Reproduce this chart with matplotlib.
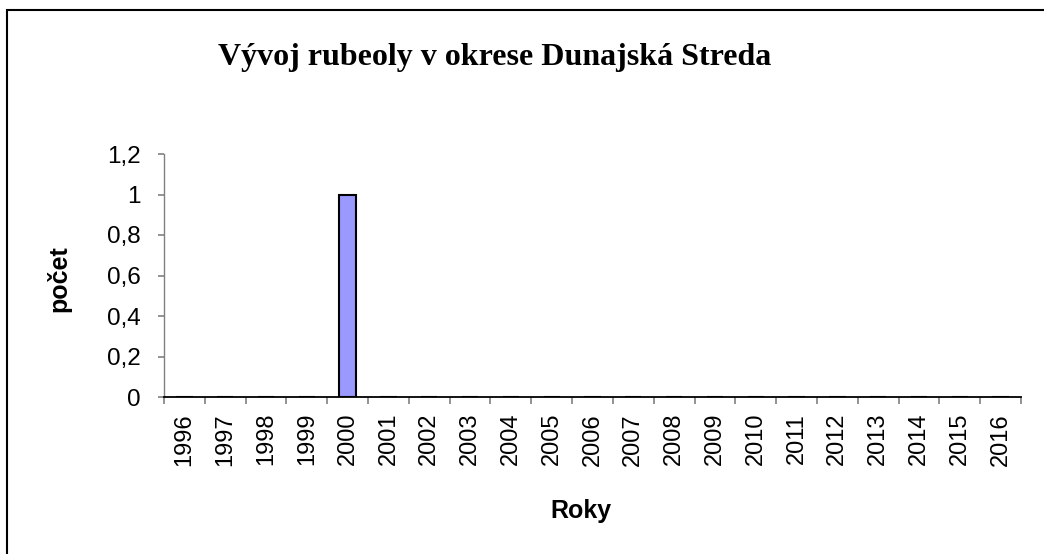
import matplotlib
matplotlib.use("Agg")
import matplotlib.pyplot as plt
from matplotlib.patches import Rectangle
import numpy as np

years = [str(y) for y in range(1996, 2017)]
counts = [0, 0, 0, 0, 1, 0, 0, 0, 0, 0, 0, 0, 0, 0, 0, 0, 0, 0, 0, 0, 0]
yticks = [0, 0.2, 0.4, 0.6, 0.8, 1.0, 1.2]
ytick_labels = ["0", "0,2", "0,4", "0,6", "0,8", "1", "1,2"]

W, H = 1044, 554
fig = plt.figure(figsize=(W / 100, H / 100), dpi=100)
fig.patch.set_facecolor("white")

left, right, bottom, top = 164 / W, 1021 / W, 1 - 397 / H, 1 - 154 / H
ax = fig.add_axes([left, bottom, right - left, top - bottom])

x = np.arange(len(years))
ax.bar(x, counts, width=0.4, color="#9999FF", edgecolor="black", linewidth=1.5, zorder=3)

ax.set_xlim(-0.5, len(years) - 0.5)
ax.set_ylim(0, 1.2)
ax.set_yticks(yticks)
ax.set_yticklabels(ytick_labels, fontsize=17.5, family="Liberation Sans")
ax.set_xticks(x)
ax.set_xticklabels(years, rotation=90, fontsize=17, family="Liberation Sans")
ax.tick_params(axis="x", which="major", length=0, pad=11.5)
ax.set_xticks(np.arange(-0.5, len(years)), minor=True)
ax.tick_params(axis="x", which="minor", length=5, color="#808080", width=1.2, direction="out")
ax.tick_params(axis="y", length=4.5, color="#808080", width=1.2, direction="out", pad=12)

for s in ["top", "right"]:
    ax.spines[s].set_visible(False)
ax.spines["left"].set_color("#808080")
ax.spines["left"].set_linewidth(1.0)
ax.spines["bottom"].set_color("black")
ax.spines["bottom"].set_linewidth(1.3)
ax.spines["bottom"].set_zorder(5)

fig.text(495 / W, 1 - 58 / H, "Vývoj rubeoly v okrese Dunajská Streda",
         ha="center", va="center", fontsize=23, fontweight="bold", family="Liberation Serif")
fig.text(59 / W, 1 - 279 / H, "počet", rotation=90, ha="center", va="center",
         fontsize=18, fontweight="bold", family="Liberation Sans")
fig.text(581 / W, 1 - 511 / H, "Roky", ha="center", va="center",
         fontsize=18, fontweight="bold", family="Liberation Sans")

fig.patches.append(Rectangle((7 / W, -0.1), 2, 1 - 10 / H + 0.1, transform=fig.transFigure,
                             fill=False, edgecolor="black", linewidth=1.5))

fig.savefig("out.png", dpi=100, facecolor="white")
